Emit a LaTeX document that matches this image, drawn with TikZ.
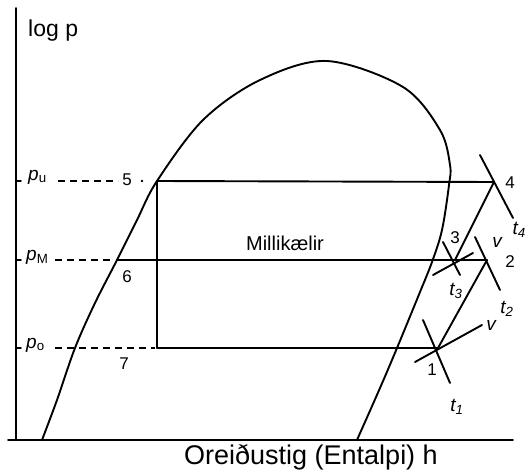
\documentclass[tikz,border=0pt]{standalone}
\usepackage{fontspec}
\setmainfont{Liberation Sans}
\begin{document}
\begin{tikzpicture}[x=1pt,y=-1pt,
  ln/.style={line width=1.9pt, line cap=round},
  dsh/.style={line width=1.7pt, dash pattern=on 7pt off 5pt},
  num/.style={font=\fontsize{17}{17}\selectfont, inner sep=0pt},
  lbl/.style={font=\fontsize{19}{19}\selectfont, inner sep=0pt}]
\useasboundingbox (0,0) rectangle (527,473);
% axes
\coordinate (ytop) at (16,8);
\coordinate (orig) at (16,440);
\coordinate (xend) at (513,440);
\coordinate (xstart) at (8,440);
\draw[ln] (ytop) -- (orig);
\draw[ln] (xstart) -- (xend);
% dome
\draw[ln] plot[smooth, tension=0.55] coordinates {(42,440) (57,400) (75,348) (95,303) (117,260) (137,220) (157,181) (203,120) (260,80) (327,61) (403,87) (440,130) (450,165) (449,185) (442,230) (432,262) (420,292) (397,348) (380,388) (357,440)};
% state points
\coordinate (P5) at (157,181);
\coordinate (P4) at (494,182);
\coordinate (P6) at (117,260);
\coordinate (P3) at (455,260);
\coordinate (P2) at (487,260);
\coordinate (P7) at (157,348);
\coordinate (P1) at (438,348);
\draw[ln] (P5) -- (P4);
\draw[ln] (P5) -- (P7);
\draw[ln] (P6) -- (P2);
\draw[ln] (P7) -- (P1);
\draw[ln] (P1) -- (P2);
\draw[ln] (P3) -- (P4);
% isotherms / v-lines
\coordinate (t4a) at (480,155); \coordinate (t4b) at (513,218);
\coordinate (t2a) at (475,237); \coordinate (t2b) at (500,290);
\coordinate (t3a) at (443,242); \coordinate (t3b) at (460,275);
\coordinate (v3a) at (433,275); \coordinate (v3b) at (473,253);
\coordinate (t1a) at (423,320); \coordinate (t1b) at (450,383);
\coordinate (v1a) at (415,362); \coordinate (v1b) at (482,325);
\draw[ln] (t4a) -- (t4b);
\draw[ln] (t2a) -- (t2b);
\draw[ln] (t3a) -- (t3b);
\draw[ln] (v3a) -- (v3b);
\draw[ln] (t1a) -- (t1b);
\draw[ln] (v1a) -- (v1b);
% dashed pressure lines and ticks
\coordinate (du1) at (58,181); \coordinate (du2) at (118,181);
\coordinate (dm1) at (55,260); \coordinate (dm2) at (113,260);
\coordinate (do1) at (55,348); \coordinate (do2) at (155,348);
\draw[dsh] (du1) -- (du2);
\draw[dsh] (dm1) -- (dm2);
\draw[dsh] (do1) -- (do2);
\fill (142,181) circle (1.3pt);
\foreach \yy in {181,260,348} \draw[ln] (16,\yy) -- (21,\yy);
% labels
\node[lbl, anchor=west] (pu) at (28,177) {\textit{p}\textsubscript{u}};
\node[lbl, anchor=west] (pm) at (26,257) {\textit{p}\textsubscript{M}};
\node[lbl, anchor=west] (po) at (26,345) {\textit{p}\textsubscript{o}};
\node[num] (n5) at (127,180) {5};
\node[num] (n6) at (127,277) {6};
\node[num] (n7) at (124,364) {7};
\node[num] (n4) at (510,183) {4};
\node[num] (n2) at (510,262) {2};
\node[num] (n3) at (455,238) {3};
\node[num] (n1) at (432,370) {1};
\node[lbl] (v3) at (497,242) {\itshape v};
\node[lbl] (v1) at (491,325) {\itshape v};
\node[lbl, anchor=east] (t4) at (526,230) {\itshape t\textsubscript{4}};
\node[lbl] (t3) at (456,291) {\itshape t\textsubscript{3}};
\node[lbl] (t2) at (507,309) {\itshape t\textsubscript{2}};
\node[lbl] (t1) at (457,407) {\itshape t\textsubscript{1}};
\node[font=\fontsize{20}{20}\selectfont, inner sep=0pt] (mk) at (285,243) {Millikælir};
\node[font=\fontsize{23}{23}\selectfont, inner sep=0pt, anchor=west] (logp) at (28,31) {log p};
\node[font=\fontsize{27}{27}\selectfont, inner sep=0pt] (xl) at (311,457) {Oreiðustig (Entalpi) h};
\end{tikzpicture}
\end{document}
